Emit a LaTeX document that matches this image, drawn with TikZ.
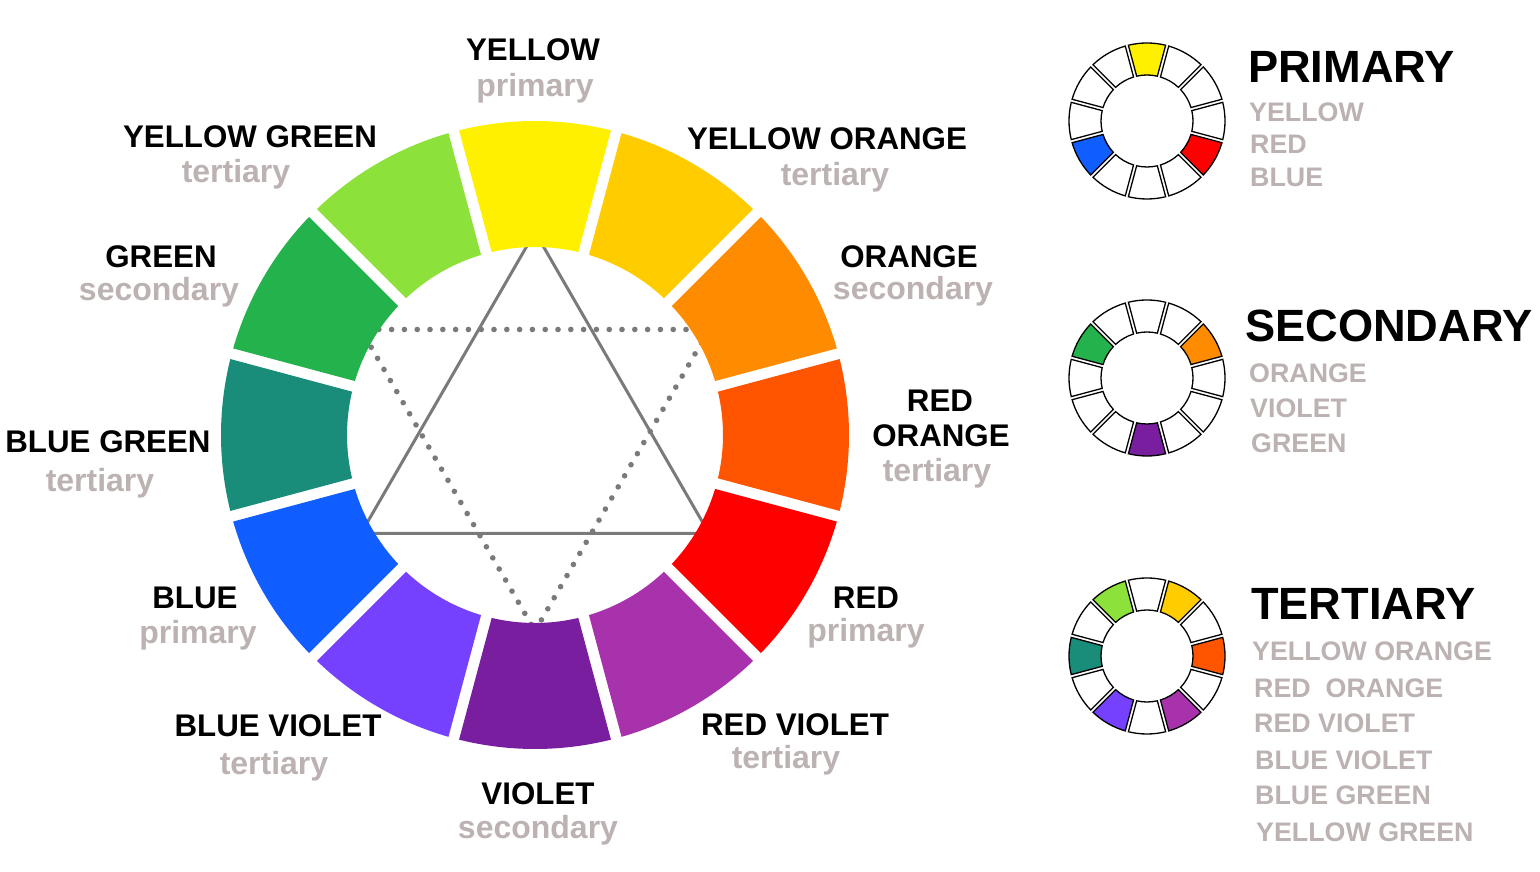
\documentclass[tikz,border=0pt]{standalone}
\usepackage{fontspec}
\setmainfont{Liberation Sans}
\definecolor{cY}{RGB}{255,240,0}
\definecolor{cYO}{RGB}{255,204,0}
\definecolor{cO}{RGB}{255,140,0}
\definecolor{cRO}{RGB}{255,85,0}
\definecolor{cR}{RGB}{255,0,0}
\definecolor{cRV}{RGB}{168,50,172}
\definecolor{cV}{RGB}{122,30,160}
\definecolor{cBV}{RGB}{118,64,255}
\definecolor{cB}{RGB}{16,94,255}
\definecolor{cBG}{RGB}{25,140,122}
\definecolor{cG}{RGB}{36,178,76}
\definecolor{cYG}{RGB}{140,226,58}
\definecolor{txtgray}{RGB}{188,178,178}
\definecolor{linegray}{RGB}{122,122,122}
\newcommand\wseg[7]{%
 \pgfmathsetmacro\wao{asin(#5/#3)}%
 \pgfmathsetmacro\wai{asin(#5/#4)}%
 \pgfmathsetmacro\wsa{#6-15+\wao}%
 \pgfmathsetmacro\wea{#6+15-\wao}%
 \pgfmathsetmacro\wsi{#6+15-\wai}%
 \pgfmathsetmacro\wei{#6-15+\wai}%
 \path[#7] ([shift={(\wsa:#3)}]#1,#2) arc[start angle=\wsa, end angle=\wea, radius=#3]
   -- ([shift={(\wsi:#4)}]#1,#2) arc[start angle=\wsi, end angle=\wei, radius=#4] -- cycle;
}
\tikzset{
 blk/.style={font=\fontsize{31.3}{36}\selectfont\bfseries, text=black, inner sep=0pt, anchor=base},
 gry/.style={font=\fontsize{32}{38}\selectfont\bfseries, text=txtgray, inner sep=0pt, anchor=base},
 hdr/.style={font=\fontsize{45.2}{50}\selectfont\bfseries, text=black, anchor=base west, inner sep=0pt},
 lst/.style={font=\fontsize{26.8}{30}\selectfont\bfseries, text=txtgray, anchor=base west, inner sep=0pt},
 triline/.style={draw=linegray, line width=3pt},
 dotline/.style={draw=linegray, line width=5.6pt, line cap=round, dash pattern=on 0pt off 12.8pt},
 smallseg/.style={draw=black, line width=1.3pt},
}
\begin{document}
\begin{tikzpicture}[x=1pt,y=1pt]
\useasboundingbox[fill=white] (0,0) rectangle (1540,872);
% triangles inside the wheel
\coordinate (sc) at (535,439);
\coordinate (dc) at (535,442);
\coordinate (s1) at ([shift={(90:201)}]sc);
\coordinate (s2) at ([shift={(210:201)}]sc);
\coordinate (s3) at ([shift={(330:201)}]sc);
\coordinate (d1) at ([shift={(270:201)}]dc);
\coordinate (d2) at ([shift={(30:201)}]dc);
\coordinate (d3) at ([shift={(150:201)}]dc);
\begin{scope}
 \clip (535,437) circle[radius=189];
 \draw[dotline] (d1) -- (d2) -- (d3) -- cycle;
 \draw[triline] (s1) -- (s2) -- (s3) -- cycle;
\end{scope}
% main wheel
\foreach \a/\c in {90/cY,120/cYG,150/cG,180/cBG,210/cB,240/cBV,270/cV,300/cRV,330/cR,0/cRO,30/cO,60/cYO}{
 \wseg{535}{437}{314}{188}{5.5}{\a}{fill=\c}
}
% small wheels
\foreach \a/\c in {90/cY,120/white,150/white,180/white,210/cB,240/white,270/white,300/white,330/cR,0/white,30/white,60/white}{
 \wseg{1147}{751}{78}{46}{1.6}{\a}{smallseg,fill=\c}
}
\foreach \a/\c in {90/white,120/white,150/cG,180/white,210/white,240/white,270/cV,300/white,330/white,0/white,30/cO,60/white}{
 \wseg{1147}{494}{78}{46}{1.6}{\a}{smallseg,fill=\c}
}
\foreach \a/\c in {90/white,120/cYG,150/white,180/cBG,210/white,240/cBV,270/white,300/cRV,330/white,0/cRO,30/white,60/cYO}{
 \wseg{1147}{216}{78}{46}{1.6}{\a}{smallseg,fill=\c}
}
% wheel labels
\node[blk] (lY) at (533,811) {YELLOW};
\node[gry] (lYs) at (535,775) {primary};
\node[blk] (lYG) at (250,724) {YELLOW GREEN};
\node[gry] (lYGs) at (236,689) {tertiary};
\node[blk] (lYO) at (827,722) {YELLOW ORANGE};
\node[gry] (lYOs) at (835,686) {tertiary};
\node[blk] (lG) at (161,604) {GREEN};
\node[gry] (lGs) at (159,571) {secondary};
\node[blk] (lO) at (909,604) {ORANGE};
\node[gry] (lOs) at (913,572) {secondary};
\node[blk] (lRO1) at (940,460) {RED};
\node[blk] (lRO2) at (941,425) {ORANGE};
\node[gry] (lROs) at (937,390) {tertiary};
\node[blk] (lBG) at (108,419) {BLUE GREEN};
\node[gry] (lBGs) at (100,380) {tertiary};
\node[blk] (lB) at (195,263) {BLUE};
\node[gry] (lBs) at (198,228) {primary};
\node[blk] (lR) at (866,263) {RED};
\node[gry] (lRs) at (866,230) {primary};
\node[blk] (lBV) at (278,135) {BLUE VIOLET};
\node[gry] (lBVs) at (274,97) {tertiary};
\node[blk] (lRV) at (795,136) {RED VIOLET};
\node[gry] (lRVs) at (786,103) {tertiary};
\node[blk] (lV) at (538,67) {VIOLET};
\node[gry] (lVs) at (538,33) {secondary};
% legend
\node[hdr] (hP) at (1248,789) {PRIMARY};
\node[lst] (p1) at (1249,750) {YELLOW};
\node[lst] (p2) at (1250,718) {RED};
\node[lst] (p3) at (1250,685) {BLUE};
\node[hdr] (hS) at (1245,530) {SECONDARY};
\node[lst] (q1) at (1249,489) {ORANGE};
\node[lst] (q2) at (1250,454) {VIOLET};
\node[lst] (q3) at (1251,419) {GREEN};
\node[hdr] (hT) at (1251,252) {TERTIARY};
\node[lst] (t1) at (1252,211) {YELLOW ORANGE};
\node[lst] (t2) at (1254,174) {RED\ \ ORANGE};
\node[lst] (t3) at (1254,139) {RED VIOLET};
\node[lst] (t4) at (1255,102) {BLUE VIOLET};
\node[lst] (t5) at (1255,67) {BLUE GREEN};
\node[lst] (t6) at (1256,30) {YELLOW GREEN};
\end{tikzpicture}
\end{document}
